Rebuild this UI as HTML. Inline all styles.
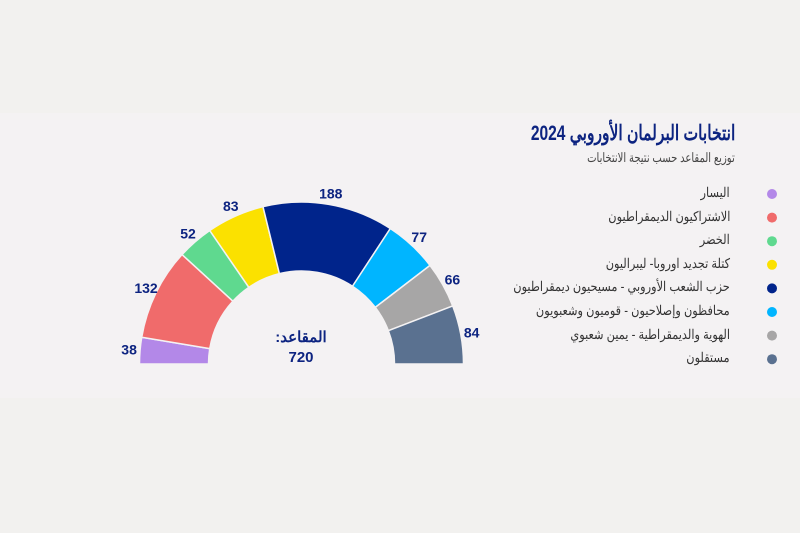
<!DOCTYPE html>
<html><head><meta charset="utf-8"><style>
html,body{margin:0;padding:0;}
body{width:800px;height:533px;background:#f2f1ef;position:relative;overflow:hidden;font-family:"Liberation Sans","Noto Sans CJK SC",sans-serif;}
#band{position:absolute;left:0;top:113px;width:800px;height:285px;background:#f4f2f3;}
svg{position:absolute;left:0;top:0;}
.t{position:absolute;direction:rtl;text-align:right;white-space:nowrap;transform-origin:right center;}
.c{position:absolute;direction:rtl;text-align:center;white-space:nowrap;width:120px;left:241px;font-size:15px;font-weight:bold;color:#0d2481;}
</style></head><body>
<div id="band"></div>
<svg id="s" width="800" height="533"></svg>
<div class="t" style="right:65px;top:121px;font-size:21px;font-weight:bold;color:#0d2481;transform:scaleX(0.74);">انتخابات البرلمان الأوروبي 2024</div>
<div class="t" style="right:65px;top:150px;font-size:13px;color:#444;transform:scaleX(0.77);">توزيع المقاعد حسب نتيجة الانتخابات</div>
<div class="c" style="top:328px;">المقاعد:</div>
<div class="c" style="top:349px;">720</div>
<div id="leg"></div>
<script>
var data=[[38,"#b388e8","اليسار"],[132,"#f06b6b","الاشتراكيون الديمقراطيون"],[52,"#5fd98f","الخضر"],[83,"#fbe100","كتلة تجديد اوروبا- ليبراليون"],[188,"#00248b","حزب الشعب الأوروبي - مسيحيون ديمقراطيون"],[77,"#00b5ff","محافظون وإصلاحيون - قوميون وشعبويون"],[66,"#a7a6a6","الهوية والديمقراطية - يمين شعبوي"],[84,"#5a7190","مستقلون"]];
var cx=301.5,cy=364,R=162,r=93,s="",acc=0,lg="";
function pt(a,rad){return [cx-rad*Math.cos(a),cy-rad*Math.sin(a)];}
data.forEach(function(d,i){
 var a0=acc/720*Math.PI,a1=(acc+d[0])/720*Math.PI;acc+=d[0];
 var p1=pt(a0,R),p2=pt(a1,R),p3=pt(a1,r),p4=pt(a0,r);
 s+='<path d="M'+p1+' A'+R+' '+R+' 0 0 1 '+p2+' L'+p3+' A'+r+' '+r+' 0 0 0 '+p4+'Z" fill="'+d[1]+'" stroke="#f4f2f3" stroke-width="1.5"/>';
 var m=(a0+a1)/2,lp=pt(m,173);
 s+='<text x="'+lp[0]+'" y="'+(lp[1]+5)+'" text-anchor="middle" font-size="14" font-weight="bold" fill="#0d2481" font-family="Liberation Sans">'+d[0]+'</text>';
 var y=194+i*23.6;
 s+='<circle cx="772" cy="'+y+'" r="5" fill="'+d[1]+'"/>';
 lg+='<div class="t" style="right:70px;top:'+(y-9)+'px;font-size:13.5px;color:#333;transform:scaleX(0.84);">'+d[2]+'</div>';
});
document.getElementById("s").innerHTML=s;
document.getElementById("leg").innerHTML=lg;
</script>
</body></html>
